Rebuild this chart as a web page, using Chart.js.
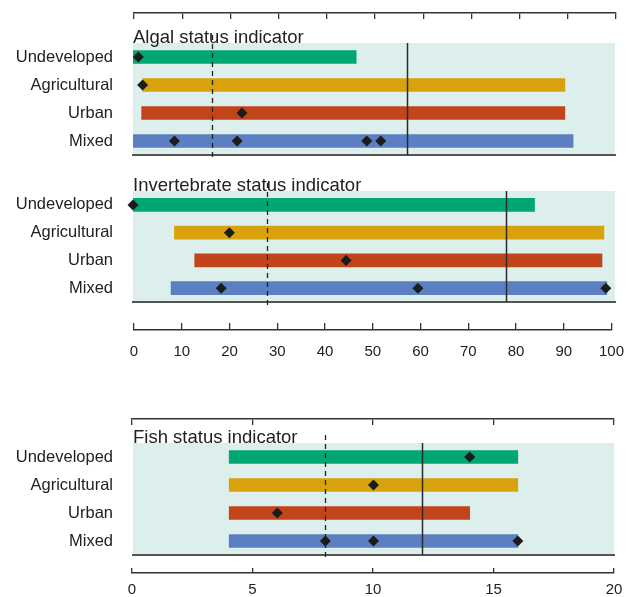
<!DOCTYPE html>
<html><head><meta charset="utf-8">
<script src="https://cdn.jsdelivr.net/npm/chart.js@4/dist/chart.umd.min.js"></script>
<style>
html,body{margin:0;padding:0;background:#fff;}
#wrap{position:relative;width:637px;height:597px;overflow:hidden;background:#fff;}
canvas{position:absolute;left:0;}
</style></head><body>
<div id="wrap">
<canvas id="axA" width="637" height="25" style="top:0px"></canvas>
<canvas id="pA" width="637" height="140" style="top:25px"></canvas>
<canvas id="pB" width="637" height="145" style="top:165px"></canvas>
<canvas id="axB" width="637" height="55" style="top:310px"></canvas>
<canvas id="axC" width="637" height="28" style="top:400px"></canvas>
<canvas id="pC" width="637" height="135" style="top:428px"></canvas>
<canvas id="axD" width="637" height="34" style="top:563px"></canvas>
</div>
<script>
// ---------- DATA ----------
const categories = ['Undeveloped', 'Agricultural', 'Urban', 'Mixed'];
const categoryColors = ['#00a775', '#d8a20c', '#c1441b', '#5b7fc1'];

const pctTicks = [0, 10, 20, 30, 40, 50, 60, 70, 80, 90, 100];
const fishTicks = [0, 5, 10, 15, 20];

const algalTitle = 'Algal status indicator';
const algalStart = [0, 2, 1.8, 0];
const algalEnd = [46.3, 89.6, 89.6, 91.3];
const algalPoints = [[1.1], [2], [22.6], [8.6, 21.6, 48.5, 51.4]];
const algalDashed = 16.4;
const algalSolid = 56.9;

const invertTitle = 'Invertebrate status indicator';
const invertStart = [0, 8.6, 12.8, 7.9];
const invertEnd = [83.3, 97.7, 97.3, 98.3];
const invertPoints = [[0], [20], [44.2], [18.3, 59.1, 98.1]];
const invertDashed = 27.7;
const invertSolid = 77.3;

const fishTitle = 'Fish status indicator';
const fishStart = [4, 4, 4, 4];
const fishEnd = [16, 16, 14, 16];
const fishPoints = [[14], [10], [6], [8, 10, 16]];
const fishDashed = 8;
const fishSolid = 12;

// ---------- STYLE ----------
const FONT = "'Liberation Sans', Arial, Helvetica, sans-serif";
const BG = '#ddefec';
const INK = '#222222';

const panelPlugin = {
  id: 'panelDeco',
  beforeDraw(chart, args, opts) {
    const {ctx, chartArea: a} = chart;
    ctx.save();
    ctx.fillStyle = BG;
    ctx.fillRect(a.left, a.top, a.right - a.left, a.bottom - a.top);
    ctx.fillStyle = INK;
    ctx.font = '18.5px ' + FONT;
    ctx.textBaseline = 'alphabetic';
    ctx.textAlign = 'left';
    ctx.fillText(opts.title, a.left, a.top);
    ctx.restore();
  },
  beforeDatasetDraw(chart, args, opts) {
    if (args.meta.type !== 'scatter') return;
    const {ctx, chartArea: a} = chart;
    const x = chart.scales.x;
    ctx.save();
    const xd = Math.round(x.getPixelForValue(opts.dashed)) + 0.5;
    ctx.strokeStyle = INK;
    ctx.lineWidth = 1.3;
    ctx.setLineDash([5, 4]);
    ctx.beginPath();
    ctx.moveTo(xd, a.top - 8);
    ctx.lineTo(xd, a.bottom + 6);
    ctx.stroke();
    ctx.setLineDash([]);
    const xs = Math.round(x.getPixelForValue(opts.solid)) + 0.5;
    ctx.strokeStyle = '#2a2a2a';
    ctx.lineWidth = 1.5;
    ctx.beginPath();
    ctx.moveTo(xs, a.top);
    ctx.lineTo(xs, a.bottom);
    ctx.stroke();
    ctx.restore();
  }
};

function makePanel(id, title, starts, ends, points, dashed, solid, max, pad) {
  new Chart(document.getElementById(id), {
    type: 'bar',
    data: {
      labels: categories,
      datasets: [
        {
          type: 'bar',
          indexAxis: 'y',
          order: 2,
          data: starts.map((s, i) => [s, ends[i]]),
          backgroundColor: categoryColors,
          borderWidth: 0,
          barThickness: 13
        },
        {
          type: 'scatter',
          order: 1,
          data: points.flatMap((arr, i) => arr.map(v => ({x: v, y: categories[i]}))),
          pointStyle: 'rectRot',
          radius: 5.5,
          backgroundColor: '#1c1c1c',
          borderWidth: 0,
          clip: false
        }
      ]
    },
    options: {
      responsive: false,
      animation: false,
      events: [],
      layout: {padding: pad},
      plugins: {
        legend: {display: false},
        tooltip: {enabled: false},
        panelDeco: {title, dashed, solid}
      },
      scales: {
        x: {
          type: 'linear', position: 'bottom', min: 0, max: max, offset: false,
          ticks: {display: false},
          grid: {display: false, drawTicks: false, offset: false},
          border: {display: true, color: '#555555', width: 2},
          afterFit: s => { s.paddingLeft = 0; s.paddingRight = 0; }
        },
        y: {
          type: 'category', position: 'left', offset: true,
          grid: {display: false, drawTicks: false},
          border: {display: false},
          ticks: {color: INK, padding: 20, font: {family: FONT, size: 16.5}},
          afterFit: s => { s.width = 133; s.paddingTop = 0; s.paddingBottom = 0; }
        }
      }
    },
    plugins: [panelPlugin]
  });
}

function makeAxis(id, max, tickVals, position, pad, showLabels, labelPad, scaleHeight) {
  const xOpts = {
    type: 'linear', position: position, min: 0, max: max,
    afterBuildTicks: s => { s.ticks = tickVals.map(v => ({value: v})); },
    ticks: {display: showLabels, color: INK, padding: labelPad, autoSkip: false, maxRotation: 0,
            font: {family: FONT, size: 15}},
    grid: {drawOnChartArea: true, drawTicks: false, color: '#333333', lineWidth: 1.3},
    border: {display: true, color: '#333333', width: 1.5}
  };
  if (scaleHeight) xOpts.afterFit = s => { s.height = scaleHeight; };
  new Chart(document.getElementById(id), {
    type: 'scatter',
    data: {datasets: []},
    options: {
      responsive: false, animation: false, events: [],
      layout: {padding: pad},
      plugins: {legend: {display: false}, tooltip: {enabled: false}},
      scales: {x: xOpts, y: {display: false}}
    }
  });
}

makeAxis('axA', 100, pctTicks, 'top', {top: 13, bottom: 6, left: 134, right: 21}, false, 0, 0);
makePanel('pA', algalTitle, algalStart, algalEnd, algalPoints, algalDashed, algalSolid, 100,
          {top: 18, bottom: 10, left: 0, right: 22});
makePanel('pB', invertTitle, invertStart, invertEnd, invertPoints, invertDashed, invertSolid, 100,
          {top: 26, bottom: 8, left: 0, right: 22});
makeAxis('axB', 100, pctTicks, 'bottom', {top: 13, bottom: 0, left: 134, right: 21}, true, 13, 35);
makeAxis('axC', 20, fishTicks, 'top', {top: 19, bottom: 3, left: 132, right: 23}, false, 0, 0);
makePanel('pC', fishTitle, fishStart, fishEnd, fishPoints, fishDashed, fishSolid, 20,
          {top: 15, bottom: 8, left: 0, right: 23});
makeAxis('axD', 20, fishTicks, 'bottom', {top: 5, bottom: 0, left: 132, right: 23}, true, 8, 24);
</script>
</body></html>
